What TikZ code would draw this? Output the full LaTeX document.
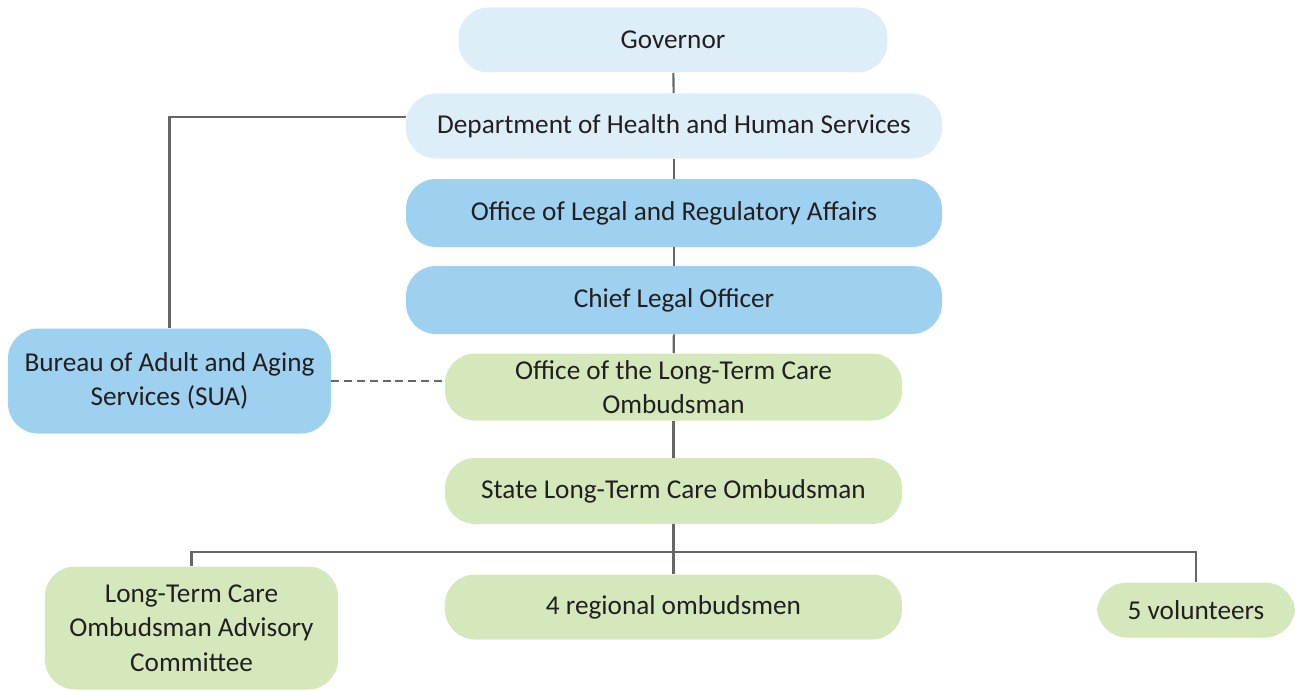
\documentclass[tikz,border=0pt]{standalone}
\usepackage{fontspec}
\setmainfont{Carlito}

\definecolor{paleblue}{HTML}{DDEEF9}
\definecolor{midblue}{HTML}{9DD1EF}
\definecolor{palegreen}{HTML}{D5E8BB}
\definecolor{linkgray}{HTML}{666666}
\definecolor{inkgray}{HTML}{231F20}

\tikzset{
  unit/.style={rounded corners=0.6cm, align=center, inner sep=0pt,
    text=inkgray, font=\fontsize{15.5}{19.5}\selectfont},
  topunit/.style={unit, fill=paleblue},
  legalunit/.style={unit, fill=midblue},
  careunit/.style={unit, fill=palegreen},
  link/.style={draw=linkgray, line width=1.2pt},
}

\begin{document}
\begin{tikzpicture}
        \useasboundingbox (0,0) rectangle (25.9,-13.8);
        % top of the chain
        \node[topunit, minimum width=8.58cm, minimum height=1.3cm] (gov) at (13.46,-0.80) {Governor};
        \node[topunit, minimum width=10.72cm, minimum height=1.3cm] (dhhs) at (13.48,-2.52)
          {Department of Health and Human Services};
        \node[legalunit, minimum width=10.72cm, minimum height=1.36cm] (olra) at (13.48,-4.26)
          {Office of Legal and Regulatory Affairs};
        \node[legalunit, minimum width=10.72cm, minimum height=1.36cm] (clo) at (13.48,-6.0)
          {Chief Legal Officer};
        \node[legalunit, minimum width=6.46cm, minimum height=2.1cm] (bureau) at (3.39,-7.62)
          {Bureau of Adult and Aging\\Services (SUA)};
        % ombudsman program
        \node[careunit, minimum width=9.14cm, minimum height=1.34cm] (office) at (13.47,-7.74)
          {Office of the Long-Term Care\\Ombudsman};
        \node[careunit, minimum width=9.14cm, minimum height=1.32cm] (state) at (13.47,-9.82)
          {State Long-Term Care Ombudsman};
        \node[careunit, minimum width=5.86cm, minimum height=2.46cm] (council) at (3.83,-12.56)
          {Long-Term Care\\Ombudsman Advisory\\Committee};
        \node[careunit, minimum width=9.14cm, minimum height=1.3cm] (regional) at (13.47,-12.14)
          {4 regional ombudsmen};
        \node[careunit, minimum width=3.96cm, minimum height=1.1cm] (vols) at (23.92,-12.2)
          {5 volunteers};
        \coordinate (bus) at (13.45,-11.04);

        % reporting lines
        \draw[link] (gov) -- (dhhs);
        \draw[link] (dhhs) -- (olra);
        \draw[link] (olra) -- (clo);
        \draw[link] (clo) -- (office);
        \draw[link] (office) -- (state);
        \draw[link] (state.south) -- (regional.north);
        \draw[link] (bureau.north) |- ([yshift=1.8mm]dhhs.west);
        \draw[link, dash pattern=on 4.5pt off 2.8pt] (bureau.east) -- (bureau.east -| office.west);
        \draw[link] (council.north) |- (bus) -| (vols.north);
      \end{tikzpicture}
\end{document}
